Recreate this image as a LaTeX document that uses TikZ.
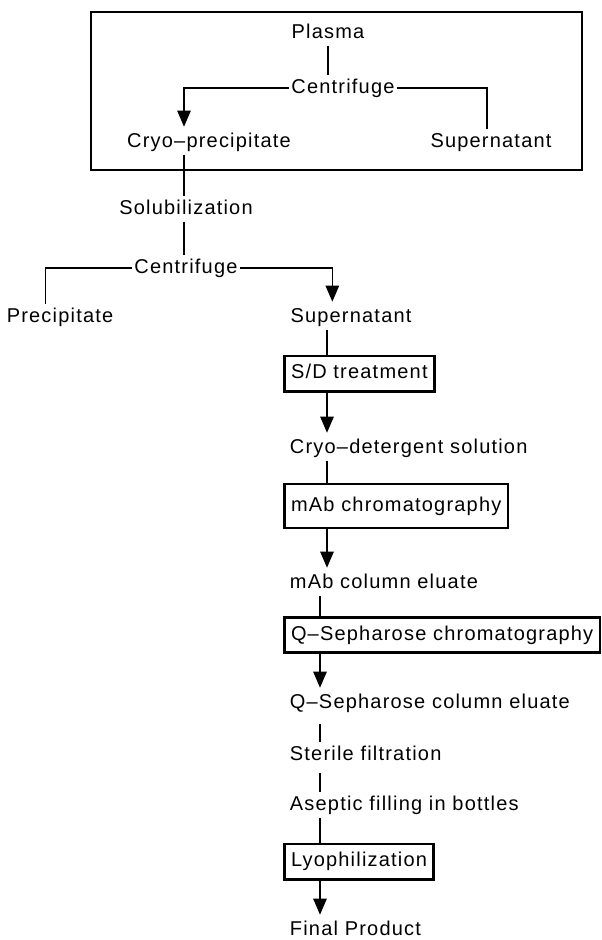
\documentclass[tikz,border=0pt]{standalone}
\usepackage{fontspec}
\setmainfont{Liberation Sans}[LetterSpace=6]
\usetikzlibrary{arrows.meta}
\begin{document}
\begin{tikzpicture}[x=0.75pt,y=0.75pt]
% ----- columns (x), in pixels -----
\def\xLbl{287}    % left edge of the plain labels
\def\xBox{283}    % left edge of the step boxes
\def\xTrunkA{327} % upper trunk
\def\xTrunkB{320} % lower trunk

% styles
\tikzset{
  lbl/.style={font=\fontsize{15}{18}\selectfont, inner sep=2pt, text height=11pt, text depth=3.5pt},
  stepbox/.style={lbl, draw, line width=2pt, inner xsep=5pt, inner ysep=6pt},
  ln/.style={line width=1.1pt},
  arr/.style={ln, -{Triangle[length=12pt,width=10pt]}, shorten >=2pt}
}

\useasboundingbox (0,0) rectangle (602,-940);

% ===== cryo step (framed) =====
\draw[line width=2pt] (91,-12) rectangle (582,-170);
\node[lbl] (plasma) at (328,-33) {Plasma};
\node[lbl] (cfA) at (343,-88) {Centrifuge};
\node[lbl] (cryo) at (209,-142) {Cryo--precipitate};
\node[lbl] (supA) at (491,-142) {Supernatant};
\coordinate (colA) at (184,0);

\draw[ln] (plasma.south) -- (plasma.south |- cfA.north);
\draw[arr] (cfA.west) -| (cryo.north -| colA);
\draw[ln] (cfA.east) -| ([xshift=-3pt]supA.north);

% ===== solubilization =====
\node[lbl] (solub) at (186,-209) {Solubilization};
\node[lbl] (cfB) at (186,-268) {Centrifuge};
\node[lbl] (precip) at (60,-317) {Precipitate};
\node[lbl] (supB) at (351,-317) {Supernatant};

\draw[ln] (cryo.south -| colA) -- (solub.north -| colA);
\draw[ln] (solub.south -| colA) -- (cfB.north -| colA);
\draw[ln] (cfB.west) -| ([xshift=-11pt]precip.north);
\draw[arr] (cfB.east) -| ([xshift=-14pt]supB.north);

% ===== purification steps =====
\coordinate (trunkA) at (\xTrunkA,0);
\coordinate (trunkB) at (\xTrunkB,0);

\node[stepbox, anchor=west] (sd) at (\xBox,-373.5) {S/D treatment};
\node[lbl, anchor=west] (cryodet) at (\xLbl,-448) {Cryo--detergent solution};
\node[stepbox, anchor=west, minimum height=33pt] (mab) at (\xBox,-506) {mAb chromatography};
\node[lbl, anchor=west] (mabel) at (\xLbl,-583) {mAb column eluate};
\node[stepbox, anchor=west] (qsep) at (\xBox,-635) {Q--Sepharose chromatography};
\node[lbl, anchor=west] (qel) at (\xLbl,-703) {Q--Sepharose column eluate};
\node[lbl, anchor=west] (sterile) at (\xLbl,-755) {Sterile filtration};
\node[lbl, anchor=west] (aseptic) at (\xLbl,-805) {Aseptic filling in bottles};
\node[stepbox, anchor=west] (lyo) at (\xBox,-861.5) {Lyophilization};
\node[lbl, anchor=west] (final) at (\xLbl,-930) {Final Product};

\draw[ln] (supB.south -| trunkA) -- (sd.north -| trunkA);
\draw[arr] (sd.south -| trunkA) -- (cryodet.north -| trunkA);
\draw[ln] (cryodet.south -| trunkA) -- (mab.north -| trunkA);
\draw[arr] (mab.south -| trunkA) -- (mabel.north -| trunkA);
\draw[ln] (mabel.south -| trunkB) -- (qsep.north -| trunkB);
\draw[arr] (qsep.south -| trunkB) -- (qel.north -| trunkB);
\draw[ln, shorten <=6pt] (qel.south -| trunkB) -- (sterile.north -| trunkB);
\draw[ln, shorten <=4pt] (sterile.south -| trunkB) -- (aseptic.north -| trunkB);
\draw[ln] (aseptic.south -| trunkB) -- (lyo.north -| trunkB);
\draw[arr] (lyo.south -| trunkB) -- (final.north -| trunkB);
\end{tikzpicture}
\end{document}
